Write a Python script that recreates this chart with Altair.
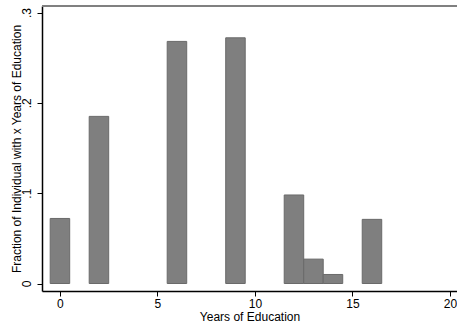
import altair as alt
import pandas as pd

# Share of individuals by completed years of education
years = [0, 2, 6, 9, 12, 13, 14, 16]
fractions = [0.072, 0.185, 0.268, 0.272, 0.098, 0.027, 0.010, 0.071]

df = pd.DataFrame({"years": years, "fraction": fractions})

FONT = "Liberation Sans"
W, H = 415, 285

x_scale = alt.Scale(domain=[-0.92, 20.36], nice=False, zero=False)
y_scale = alt.Scale(domain=[-0.0083, 0.3072], nice=False, zero=False)

bars = (
    alt.Chart(df)
    .transform_calculate(lo="datum.years - 0.5", hi="datum.years + 0.5")
    .mark_bar(color="#7f7f7f", stroke="#6a6a6a", strokeWidth=1)
    .encode(
        x=alt.X(
            "lo:Q",
            scale=x_scale,
            title="Years of Education",
            axis=alt.Axis(
                values=[0, 5, 10, 15, 20],
                grid=False,
                domainColor="black",
                domainWidth=1.5,
                tickColor="black",
                tickSize=5,
                labelFont=FONT,
                labelFontSize=12,
                labelColor="black",
                labelPadding=2,
                titleFont=FONT,
                titleFontSize=12,
                titleFontWeight="normal",
                titleColor="black",
                titlePadding=2,
            ),
        ),
        x2="hi:Q",
        y=alt.Y(
            "fraction:Q",
            scale=y_scale,
            title="Fraction of Individual with x Years of Education",
            axis=alt.Axis(
                values=[0, 0.1, 0.2, 0.3],
                labelExpr="datum.value == 0 ? '0' : replace(format(datum.value, '.1f'), '0.', '.')",
                labelAngle=270,
                labelAlign="center",
                labelBaseline="bottom",
                grid=False,
                domainColor="black",
                domainWidth=1.5,
                tickColor="black",
                tickSize=5,
                labelFont=FONT,
                labelFontSize=12,
                labelColor="black",
                labelPadding=4,
                titleFont=FONT,
                titleFontSize=12,
                titleFontWeight="normal",
                titleColor="black",
                titleX=-26,
                titleY=H / 2,
                titleAlign="center",
                titleBaseline="middle",
            ),
        ),
        y2=alt.datum(0),
    )
)

# gray frame line along the top of the plot region
top_line = alt.Chart(df).mark_rule(color="#808080", strokeWidth=2).encode(
    x=alt.value(0), x2=alt.value(W), y=alt.value(0)
)

chart = (
    alt.layer(bars, top_line)
    .properties(
        width=W,
        height=H,
        autosize=alt.AutoSizeParams(type="none"),
        padding={"left": 42, "top": 6, "right": 0, "bottom": 36},
        background="white",
    )
    .configure_view(stroke=None)
)

chart.save("out.html", embed_options={"renderer": "svg", "actions": False})
